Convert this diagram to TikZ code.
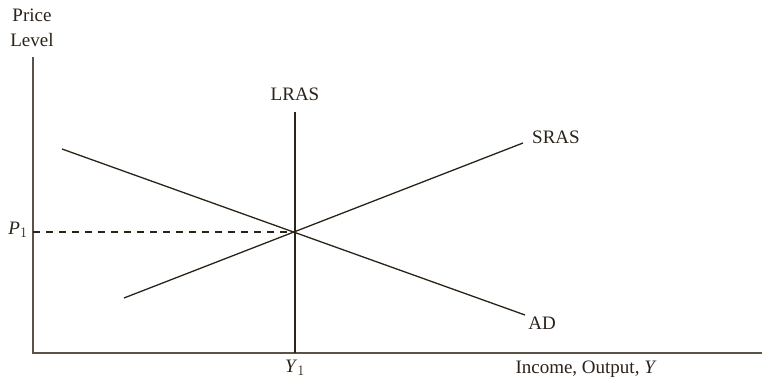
\documentclass[tikz,border=0pt]{standalone}
\usepackage{fontspec}
\setmainfont{Liberation Serif}
\usepackage{xcolor}
\usepackage{tikz}
\usetikzlibrary{positioning}

\definecolor{axisgray}{HTML}{5B5248}
\definecolor{curveink}{HTML}{2B2218}

\tikzset{
  axis/.style={draw=axisgray, line width=1.8pt},
  curve/.style={draw=curveink, line width=1.3pt},
  guide/.style={draw=curveink, line width=1.1pt, dash pattern=on 7pt off 6pt},
  lbl/.style={text=curveink, inner sep=0pt}
}

\begin{document}
\begin{tikzpicture}[x=1pt, y=1pt, font=\fontsize{19}{22}\selectfont]
  \useasboundingbox (0,0) rectangle (762,385);
  % Axes
  \coordinate (O) at (33,32);
  \coordinate (ytop) at (33,328);
  \coordinate (xend) at (762,32);
  \draw[axis] (ytop) -- (O) -- (xend);
  \node[lbl, align=center] (plevel) at (32,357) {Price\\[3pt]Level};
  \node[lbl] (income) at (586,16) {Income, Output, \textit{Y}};
  % Equilibrium point
  \coordinate (E) at (295,153);
  % LRAS
  \coordinate (lrasbot) at (295,32);
  \coordinate (lrastop) at (295,273);
  \draw[curve] (lrasbot) -- (lrastop);
  \node[lbl] (lras) at (295,291) {LRAS};
  % SRAS
  \coordinate (srasA) at (124,87);
  \coordinate (srasB) at (523,242);
  \draw[curve] (srasA) -- (srasB);
  \node[lbl] (sras) at (556,248) {SRAS};
  % AD
  \coordinate (adA) at (62,236);
  \coordinate (adB) at (525,70);
  \draw[curve] (adA) -- (adB);
  \node[lbl] (ad) at (542,62) {AD};
  % Price and output at equilibrium
  \coordinate (pax) at (33,153);
  \draw[guide] (pax) -- (E);
  \node[lbl] (p1) at (18,155) {\textit{P}$_1$};
  \node[lbl] (y1) at (295,17) {\textit{Y}$_1$};
\end{tikzpicture}
\end{document}
